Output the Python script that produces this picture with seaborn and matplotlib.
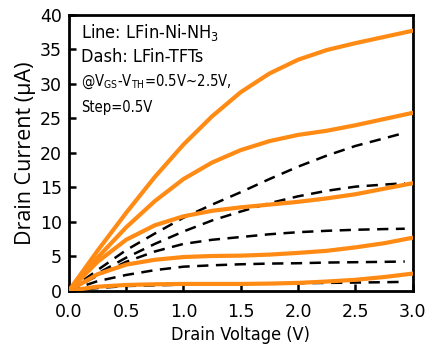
import numpy as np
import pandas as pd
import matplotlib
matplotlib.use("Agg")
import matplotlib.pyplot as plt
import seaborn as sns

# ---- data ----
vd = [0.0, 0.25, 0.5, 0.75, 1.0, 1.25, 1.5, 1.75, 2.0, 2.25, 2.5, 2.75, 3.0]
vd_dash = [0.0, 0.25, 0.5, 0.75, 1.0, 1.25, 1.5, 1.75, 2.0, 2.25, 2.5, 2.75, 2.93]

ni_nh3_25 = [0, 5.8, 11.3, 16.5, 21.2, 25.3, 28.8, 31.5, 33.5, 34.9, 35.9, 36.8, 37.7]
ni_nh3_20 = [0, 4.8, 9.2, 13.0, 16.2, 18.6, 20.4, 21.7, 22.6, 23.2, 24.0, 24.9, 25.8]
ni_nh3_15 = [0, 4.2, 7.4, 9.5, 10.8, 11.6, 12.1, 12.5, 12.9, 13.4, 14.0, 14.8, 15.6]
ni_nh3_10 = [0, 2.4, 3.8, 4.5, 4.9, 5.05, 5.1, 5.25, 5.5, 5.8, 6.3, 6.9, 7.7]
ni_nh3_05 = [0, 0.6, 0.85, 0.95, 1.0, 1.0, 1.0, 1.05, 1.15, 1.35, 1.6, 2.0, 2.5]

tft_25 = [0, 3.0, 5.9, 8.3, 10.6, 12.5, 14.3, 16.2, 18.0, 19.6, 21.0, 22.1, 22.9]
tft_20 = [0, 2.5, 4.8, 6.8, 8.6, 10.2, 11.5, 12.7, 13.7, 14.5, 15.1, 15.4, 15.6]
tft_15 = [0, 2.2, 4.2, 5.7, 6.8, 7.4, 7.8, 8.2, 8.5, 8.7, 8.85, 8.95, 9.0]
tft_10 = [0, 1.4, 2.3, 3.0, 3.5, 3.7, 3.85, 3.95, 4.0, 4.1, 4.15, 4.2, 4.25]
tft_05 = [0, 0.4, 0.7, 0.8, 0.9, 0.95, 1.0, 1.05, 1.1, 1.15, 1.2, 1.25, 1.3]

x_ticks = [0.0, 0.5, 1.0, 1.5, 2.0, 2.5, 3.0]
y_ticks = [0, 5, 10, 15, 20, 25, 30, 35, 40]

solid_series = [ni_nh3_25, ni_nh3_20, ni_nh3_15, ni_nh3_10, ni_nh3_05]
dash_series = [tft_25, tft_20, tft_15, tft_10, tft_05]

# ---- style ----
sns.set_style("white")

FONT = ["DejaVu Sans", "Noto Sans"]
plt.rcParams["font.stretch"] = "condensed"
plt.rcParams["font.family"] = FONT
plt.rcParams["text.color"] = "black"
plt.rcParams["axes.labelcolor"] = "black"
plt.rcParams["xtick.color"] = "black"
plt.rcParams["ytick.color"] = "black"
plt.rcParams["mathtext.fontset"] = "custom"
plt.rcParams["mathtext.rm"] = "DejaVu Sans"
plt.rcParams["mathtext.it"] = "DejaVu Sans"
plt.rcParams["mathtext.bf"] = "DejaVu Sans:bold"

fig = plt.figure(figsize=(4.3, 3.45), dpi=100)
ax = fig.add_axes([0.160, 0.157, 0.800, 0.800])

ORANGE = "#FF8A14"

for s in dash_series:
    sns.lineplot(x=vd_dash, y=s, ax=ax, color="black", linewidth=1.8,
                 zorder=2).lines[-1].set_dashes([4.5, 3])

for s in solid_series:
    sns.lineplot(x=vd, y=s, ax=ax, color=ORANGE, linewidth=3.0, zorder=3)

ax.set_xlim(0, 3.0)
ax.set_ylim(0, 40)
ax.set_xticks(x_ticks)
ax.set_yticks(y_ticks)
ax.set_xticklabels([f"{t:.1f}" for t in x_ticks])
ax.set_yticklabels([str(t) for t in y_ticks])

for sp in ax.spines.values():
    sp.set_visible(True)
    sp.set_linewidth(2.0)
    sp.set_color("black")

ax.tick_params(axis="both", direction="in", length=5, width=1.8,
               labelsize=12.5, colors="black",
               top=False, right=False, bottom=True, left=True)
ax.tick_params(axis="x", pad=9)
ax.tick_params(axis="y", pad=5)
for lab in ax.get_xticklabels() + ax.get_yticklabels():
    lab.set_fontstretch("normal")
    lab.set_fontweight("normal")
    lab.set_color("black")

ax.set_xlabel("Drain Voltage (V)", fontsize=13, labelpad=3, color="black")
ax.set_ylabel("Drain Current (\u03bcA)", fontsize=15.5, labelpad=3, color="black",
              family=["Open Sans", "Noto Sans", "DejaVu Sans"], fontstretch="normal")

tx = 0.035
ax.text(tx, 0.935, r"Line: LFin-Ni-NH$_\mathregular{3}$", transform=ax.transAxes,
        fontsize=13, va="center", ha="left", color="black")
ax.text(tx, 0.846, "Dash: LFin-TFTs", transform=ax.transAxes,
        fontsize=13, va="center", ha="left", color="black")
ax.text(tx, 0.757, r"@V$_\mathregular{GS}$-V$_\mathregular{TH}$=0.5V~2.5V,",
        transform=ax.transAxes, fontsize=10.6, va="center", ha="left", color="black")
ax.text(tx, 0.665, "Step=0.5V", transform=ax.transAxes,
        fontsize=10.6, va="center", ha="left", color="black")

fig.savefig("out.png", dpi=100)
